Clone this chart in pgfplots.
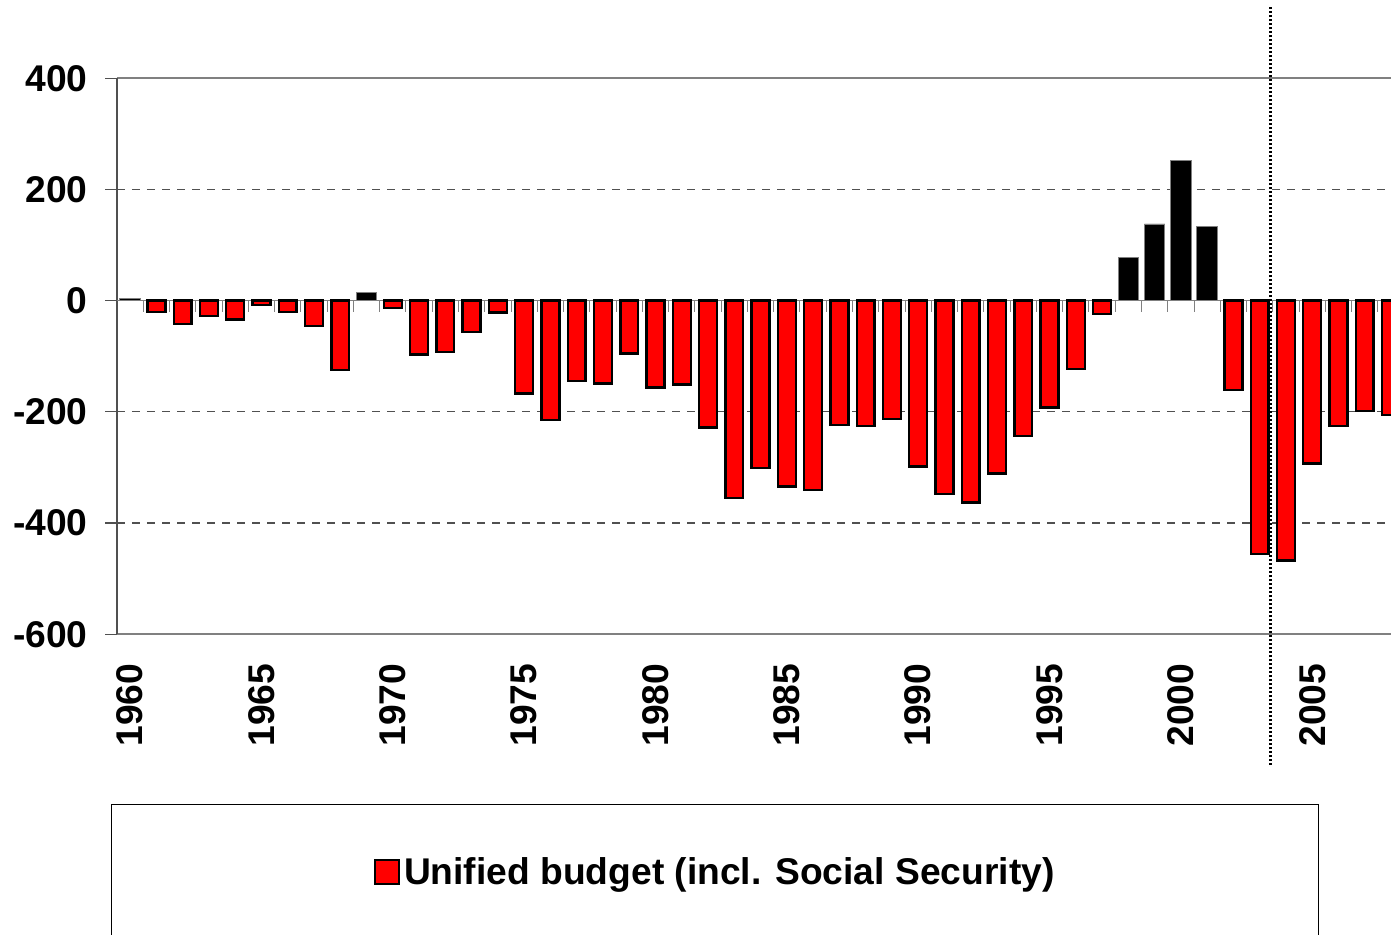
\documentclass[border=0pt]{standalone}
\usepackage{fontspec}
\setmainfont{Liberation Sans}
\usepackage{pgfplots}
\pgfplotsset{compat=1.18}
\definecolor{axgray}{RGB}{128,128,128}
\definecolor{dkgray}{RGB}{80,80,80}
\begin{document}
\begin{tikzpicture}
\begin{axis}[
  scale only axis, width=637pt, height=278pt,
  xmin=1959.5, xmax=2008, ymin=-600, ymax=400,
  axis x line*=box, axis y line*=left,
  x axis line style={draw=axgray, line width=1pt},
  y axis line style={draw=dkgray, line width=1pt},
  xtick={1960,1965,...,2005},
  xticklabels={1960,1965,1970,1975,1980,1985,1990,1995,2000,2005},
  xtick align=inside, xtick style={draw=none},
  xticklabel style={rotate=90, anchor=east, inner sep=0pt},
  xticklabel shift=14.5pt,
  ytick={-600,-400,-200,0,200,400},
  yticklabels={-600,-400,-200,0,200,400},
  ytick align=outside, ytick pos=left, major tick length=6pt,
  ytick style={draw=dkgray, line width=0.6pt},
  yticklabel style={inner sep=0pt},
  yticklabel shift=8.5pt,
  ticklabel style={font=\bfseries\fontsize{18.6}{22}\selectfont},
  ymajorgrids,
  grid style={draw=dkgray, line width=0.6pt, dash pattern=on 4pt off 3.5pt},
  clip mode=individual,
  legend style={draw=none, fill=none, at={(0.4703,-0.4282)}, anchor=center,
    font=\bfseries\fontsize{18.6}{22}\selectfont, inner sep=0pt,
    nodes={inner sep=1.8pt}},
]
\addplot[draw=axgray, line width=0.6pt, forget plot] coordinates {(1959.5,0) (2008,0)};
\addplot[ycomb, draw=axgray, line width=0.5pt, mark=none, forget plot] coordinates {
(1960.5,-20) (1961.5,-20) (1962.5,-20) (1963.5,-20) (1964.5,-20) (1965.5,-20)
(1966.5,-20) (1967.5,-20) (1968.5,-20) (1969.5,-20) (1970.5,-20) (1971.5,-20)
(1972.5,-20) (1973.5,-20) (1974.5,-20) (1975.5,-20) (1976.5,-20) (1977.5,-20)
(1978.5,-20) (1979.5,-20) (1980.5,-20) (1981.5,-20) (1982.5,-20) (1983.5,-20)
(1984.5,-20) (1985.5,-20) (1986.5,-20) (1987.5,-20) (1988.5,-20) (1989.5,-20)
(1990.5,-20) (1991.5,-20) (1992.5,-20) (1993.5,-20) (1994.5,-20) (1995.5,-20)
(1996.5,-20) (1997.5,-20) (1998.5,-20) (1999.5,-20) (2000.5,-20) (2001.5,-20)
(2002.5,-20) (2003.5,-20) (2004.5,-20) (2005.5,-20) (2006.5,-20) (2007.5,-20)};
% surplus years
\addplot[ybar, bar width=0.78, bar shift=0, fill=black, draw=axgray, line width=0.4pt, forget plot] coordinates {
(1960,4) (1969,15) (1998,77) (1999,138) (2000,252) (2001,133)};
% deficit years
\addplot[ybar, bar width=0.68, bar shift=0, fill=red, draw=black, line width=1.2pt,
  legend image code/.code={\draw[fill=red, draw=black, line width=1.1pt] (0pt,-6pt) rectangle (12pt,6pt);}] coordinates {
(1961,-20) (1962,-42) (1963,-27) (1964,-34) (1965,-8) (1966,-20) (1967,-45) (1968,-125)
(1970,-13) (1971,-97) (1972,-92) (1973,-56) (1974,-21) (1975,-167) (1976,-215) (1977,-144)
(1978,-149) (1979,-95) (1980,-156) (1981,-151) (1982,-228) (1983,-355) (1984,-301)
(1985,-334) (1986,-340) (1987,-224) (1988,-225) (1989,-213) (1990,-298) (1991,-348)
(1992,-363) (1993,-311) (1994,-243) (1995,-192) (1996,-123) (1997,-24)
(2002,-161) (2003,-456) (2004,-467) (2005,-293) (2006,-225) (2007,-198) (2008,-206)};
\addlegendentry{Unified budget (incl. Social Security)}
\coordinate (SW) at (rel axis cs:0,0);
\coordinate (NE) at (rel axis cs:1,1);
\coordinate (DT) at (axis cs:2003.4,528);
\coordinate (DB) at (axis cs:2003.4,-837);
\coordinate (LT) at (rel axis cs:0.94296,-0.30576);
\coordinate (LB) at (rel axis cs:-0.00463,-0.7);
\end{axis}
\draw[line width=1.5pt, dash pattern=on 1pt off 1pt] (DT) -- (DB);
\draw[black, line width=0.6pt] (LB) rectangle (LT);
\pgfresetboundingbox
\path ([xshift=-58.5pt,yshift=-150.35pt]SW) rectangle ([yshift=39.15pt]NE);
\end{tikzpicture}
\end{document}
